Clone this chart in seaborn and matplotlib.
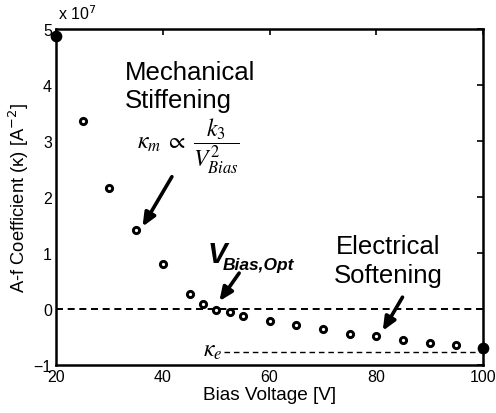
import matplotlib
matplotlib.use("Agg")
import matplotlib.pyplot as plt
import seaborn as sns
import numpy as np
import pandas as pd

# Data (A-f coefficient in units of 1e7 A^-2)
bias_open = [25, 30, 35, 40, 45, 47.5, 50, 52.5, 55, 60, 65, 70, 75, 80, 85, 90, 95]
kappa_open = [3.36, 2.15, 1.41, 0.80, 0.27, 0.09, -0.02, -0.06, -0.13, -0.22, -0.29, -0.35, -0.44, -0.49, -0.55, -0.61, -0.64]
bias_filled = [20, 100]
kappa_filled = [4.88, -0.69]
kappa_e = -0.76
x_ticks = [20, 40, 60, 80, 100]
y_ticks = [-1, 0, 1, 2, 3, 4, 5]

sns.set_style("white")
plt.rcParams['font.family'] = ['Liberation Sans', 'DejaVu Sans']
plt.rcParams.update({"text.color": "black", "axes.labelcolor": "black",
                     "xtick.color": "black", "ytick.color": "black"})

fig = plt.figure(figsize=(4.96, 4.14), dpi=100)
ax = fig.add_axes([0.113, 0.116, 0.861, 0.812])

df_open = pd.DataFrame({"x": bias_open, "y": kappa_open})
df_fill = pd.DataFrame({"x": bias_filled, "y": kappa_filled})

ax.axhline(0, color="black", linestyle=(0, (3.6, 2.4)), linewidth=1.4, zorder=1)
ax.plot([51.4, 100], [kappa_e, kappa_e], color="black", linestyle=(0, (4, 2.8)),
        linewidth=1.0, zorder=1)

sns.scatterplot(data=df_open, x="x", y="y", ax=ax, marker="o", s=20,
                facecolor="white", edgecolor="black", linewidth=2.1, zorder=3, clip_on=False)
sns.scatterplot(data=df_fill, x="x", y="y", ax=ax, marker="o", s=55,
                color="black", edgecolor="black", linewidth=1, zorder=4, clip_on=False)

ax.set_xlim(20, 100)
ax.set_ylim(-1, 5)
ax.set_xticks(x_ticks)
ax.set_yticks(y_ticks)
ax.tick_params(direction="in", length=4, width=1.2, top=True, right=True,
               labelsize=11.5, pad=3)
for s in ax.spines.values():
    s.set_linewidth(1.8)
    s.set_color("black")

ax.set_xlabel("Bias Voltage [V]", fontsize=13.7, labelpad=1)
ax.set_ylabel("A-f Coefficient (κ) [A$^{-2}$]", fontsize=13.2, labelpad=2)

fig.text(0.117, 0.945, "x 10$^7$", fontsize=11.5, ha="left", va="bottom")

ax.text(32.9, 3.98, "Mechanical\nStiffening", fontsize=18.5, ha="left", va="center",
        linespacing=1.25)
ax.text(35.2, 2.92, r"$\kappa_m \;\propto\; \dfrac{k_3}{V_{Bias}^2}$", fontsize=17,
        ha="left", va="center", math_fontfamily="stix")
ax.text(82.3, 0.86, "Electrical\nSoftening", fontsize=18.5, ha="center", va="center",
        linespacing=1.25)
ax.text(48.3, 0.98, "V", fontsize=21, fontweight="bold", style="italic",
        ha="left", va="center")
ax.text(51.2, 0.79, "Bias,Opt", fontsize=12.5, fontweight="bold", style="italic",
        ha="left", va="center")
ax.text(47.6, -0.74, r"$\kappa_e$", fontsize=17, ha="left", va="center",
        math_fontfamily="stix")

arrow = dict(arrowstyle="-|>,head_length=0.8,head_width=0.35", color="black",
             linewidth=2.6, shrinkA=0, shrinkB=0)
ax.annotate("", xy=(36.2, 1.47), xytext=(41.7, 2.36), arrowprops=arrow)
ax.annotate("", xy=(50.6, 0.14), xytext=(54.3, 0.64), arrowprops=arrow)
ax.annotate("", xy=(81.2, -0.39), xytext=(84.9, 0.21), arrowprops=arrow)

fig.savefig("out.png", dpi=100)
